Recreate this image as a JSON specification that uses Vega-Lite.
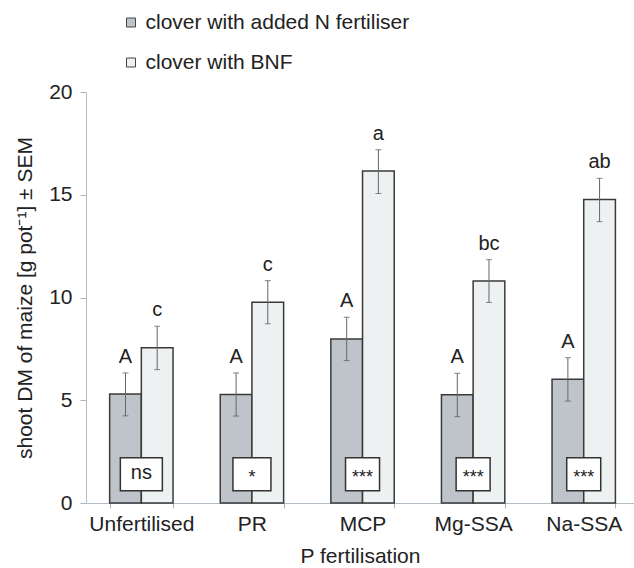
{
  "$schema": "https://vega.github.io/schema/vega-lite/v6.json",
  "width": 548,
  "height": 411,
  "autosize": "none",
  "padding": {"left": 86, "top": 92, "right": 0, "bottom": 65},
  "background": "white",
  "config": {
    "font": "Liberation Sans",
    "view": {"stroke": null},
    "axis": {"labelFont": "Liberation Sans", "titleFont": "Liberation Sans", "grid": false, "domainColor": "#b3bec8", "tickColor": "#a9b4be", "labelColor": "#222", "titleColor": "#222", "labelFontSize": 21, "titleFontSize": 21, "titleFontWeight": "normal"},
    "legend": {"labelFont": "Liberation Sans"}
  },
  "data": {
    "values": [
      {"cat": "Unfertilised", "treatment": "clover with added N fertiliser", "value": 5.3, "lo": 4.24, "hi": 6.33, "letter": "A"},
      {"cat": "Unfertilised", "treatment": "clover with BNF", "value": 7.55, "lo": 6.49, "hi": 8.6, "letter": "c"},
      {"cat": "PR", "treatment": "clover with added N fertiliser", "value": 5.28, "lo": 4.23, "hi": 6.33, "letter": "A"},
      {"cat": "PR", "treatment": "clover with BNF", "value": 9.77, "lo": 8.72, "hi": 10.82, "letter": "c"},
      {"cat": "MCP", "treatment": "clover with added N fertiliser", "value": 7.98, "lo": 6.93, "hi": 9.04, "letter": "A"},
      {"cat": "MCP", "treatment": "clover with BNF", "value": 16.15, "lo": 15.06, "hi": 17.19, "letter": "a"},
      {"cat": "Mg-SSA", "treatment": "clover with added N fertiliser", "value": 5.27, "lo": 4.2, "hi": 6.31, "letter": "A"},
      {"cat": "Mg-SSA", "treatment": "clover with BNF", "value": 10.8, "lo": 9.76, "hi": 11.84, "letter": "bc"},
      {"cat": "Na-SSA", "treatment": "clover with added N fertiliser", "value": 6.02, "lo": 4.96, "hi": 7.07, "letter": "A"},
      {"cat": "Na-SSA", "treatment": "clover with BNF", "value": 14.77, "lo": 13.69, "hi": 15.8, "letter": "ab"}
    ]
  },
  "layer": [
    {
      "mark": {"type": "bar", "stroke": "#3a3a3a", "strokeWidth": 1.5},
      "encoding": {
        "x": {"field": "cat", "type": "nominal", "sort": ["Unfertilised", "PR", "MCP", "Mg-SSA", "Na-SSA"],
              "scale": {"paddingInner": 0.427, "paddingOuter": 0.191, "align": 0.56},
              "axis": {"title": "P fertilisation", "labelAngle": 0, "tickSize": 5, "labelPadding": 5, "titlePadding": 11, "tickBand": "extent"}},
        "xOffset": {"field": "treatment", "type": "nominal", "sort": ["clover with added N fertiliser", "clover with BNF"], "scale": {"paddingInner": 0, "paddingOuter": 0}},
        "y": {"field": "value", "type": "quantitative", "scale": {"domain": [0, 20], "nice": false},
              "axis": {"title": "shoot DM of maize [g pot⁻¹] ± SEM", "values": [0, 5, 10, 15, 20], "tickSize": 6, "labelPadding": 8, "titlePadding": 13}},
        "color": {"field": "treatment", "type": "nominal",
                  "scale": {"domain": ["clover with added N fertiliser", "clover with BNF"], "range": ["#bfc4cb", "#eef1f2"]},
                  "legend": {"title": null, "orient": "none", "legendX": 34.5, "legendY": -80, "symbolType": "square", "symbolSize": 81, "symbolStrokeColor": "#444", "symbolStrokeWidth": 1, "labelFontSize": 21, "labelColor": "#222", "labelLimit": 500, "rowPadding": 18, "labelOffset": 4, "padding": 0}}
      }
    },
    {
      "mark": {"type": "rule", "color": "#666", "strokeWidth": 1},
      "encoding": {
        "x": {"field": "cat", "type": "nominal", "sort": ["Unfertilised", "PR", "MCP", "Mg-SSA", "Na-SSA"]},
        "xOffset": {"field": "treatment", "type": "nominal", "sort": ["clover with added N fertiliser", "clover with BNF"]},
        "y": {"field": "lo", "type": "quantitative"},
        "y2": {"field": "hi"}
      }
    },
    {
      "mark": {"type": "tick", "color": "#555", "size": 6, "thickness": 1},
      "encoding": {
        "x": {"field": "cat", "type": "nominal", "sort": ["Unfertilised", "PR", "MCP", "Mg-SSA", "Na-SSA"]},
        "xOffset": {"field": "treatment", "type": "nominal", "sort": ["clover with added N fertiliser", "clover with BNF"]},
        "y": {"field": "lo", "type": "quantitative"}
      }
    },
    {
      "mark": {"type": "tick", "color": "#555", "size": 6, "thickness": 1},
      "encoding": {
        "x": {"field": "cat", "type": "nominal", "sort": ["Unfertilised", "PR", "MCP", "Mg-SSA", "Na-SSA"]},
        "xOffset": {"field": "treatment", "type": "nominal", "sort": ["clover with added N fertiliser", "clover with BNF"]},
        "y": {"field": "hi", "type": "quantitative"}
      }
    },
    {
      "mark": {"type": "text", "fontSize": 20, "baseline": "alphabetic", "dy": -10, "color": "#222"},
      "encoding": {
        "x": {"field": "cat", "type": "nominal", "sort": ["Unfertilised", "PR", "MCP", "Mg-SSA", "Na-SSA"]},
        "xOffset": {"field": "treatment", "type": "nominal", "sort": ["clover with added N fertiliser", "clover with BNF"]},
        "y": {"field": "hi", "type": "quantitative"},
        "text": {"field": "letter"}
      }
    },
    {
      "data": {"values": [
        {"cat": "Unfertilised", "sig": "ns"},
        {"cat": "PR", "sig": "*"},
        {"cat": "MCP", "sig": "***"},
        {"cat": "Mg-SSA", "sig": "***"},
        {"cat": "Na-SSA", "sig": "***"}
      ]},
      "layer": [
        {
          "mark": {"type": "bar", "fill": "white", "stroke": "#333", "strokeWidth": 1.5},
          "encoding": {
            "x": {"field": "cat", "type": "nominal", "sort": ["Unfertilised", "PR", "MCP", "Mg-SSA", "Na-SSA"]},
            "y": {"datum": 0.6, "type": "quantitative"},
            "y2": {"datum": 2.2},
            "size": {"field": "sig", "type": "nominal", "scale": {"domain": ["ns", "*", "***"], "range": [42, 34, 41]}, "legend": null}
          }
        },
        {
          "transform": [{"filter": "datum.sig == 'ns'"}],
          "mark": {"type": "text", "fontSize": 20, "baseline": "alphabetic", "color": "#222"},
          "encoding": {
            "x": {"field": "cat", "type": "nominal", "sort": ["Unfertilised", "PR", "MCP", "Mg-SSA", "Na-SSA"]},
            "y": {"datum": 1.16, "type": "quantitative"},
            "text": {"field": "sig"}
          }
        },
        {
          "transform": [{"filter": "datum.sig != 'ns'"}],
          "mark": {"type": "text", "fontSize": 18, "baseline": "alphabetic", "color": "#222"},
          "encoding": {
            "x": {"field": "cat", "type": "nominal", "sort": ["Unfertilised", "PR", "MCP", "Mg-SSA", "Na-SSA"]},
            "y": {"datum": 0.97, "type": "quantitative"},
            "text": {"field": "sig"}
          }
        }
      ]
    }
  ]
}
